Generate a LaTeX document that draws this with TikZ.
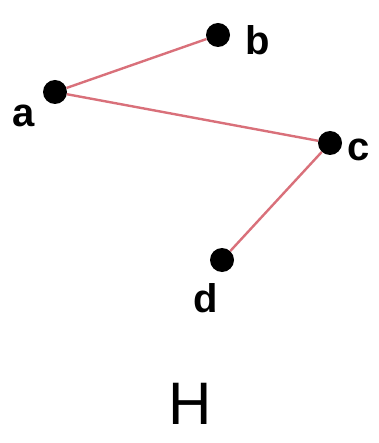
\documentclass[tikz,border=0pt]{standalone}
\usepackage{fontspec}
\setmainfont{Liberation Sans}
\usetikzlibrary{positioning}
\definecolor{rosado}{HTML}{D9707A}
\begin{document}
\begin{tikzpicture}[x=1pt, y=-1pt,
  vertice/.style={circle, fill=black, inner sep=0pt, minimum size=24pt},
  etiqueta/.style={font=\fontsize{40}{40}\selectfont\bfseries, inner sep=0pt},
  arista/.style={rosado, line width=2.4pt}]
\useasboundingbox (0,0) rectangle (378,443);
\node[vertice] (a) at (55,92) {};
\node[vertice] (b) at (218,35) {};
\node[vertice] (c) at (330,143) {};
\node[vertice] (d) at (222,260) {};
\node[etiqueta] (la) at (24,116) {a};
\node[etiqueta] (lb) at (258,40) {b};
\node[etiqueta] (lc) at (359,150) {c};
\node[etiqueta] (ld) at (206,298) {d};
\node[font=\fontsize{60}{60}\selectfont] (titulo) at (190,404) {H};
\draw[arista] (a) -- (b);
\draw[arista] (a) -- (c);
\draw[arista] (c) -- (d);
\end{tikzpicture}
\end{document}
